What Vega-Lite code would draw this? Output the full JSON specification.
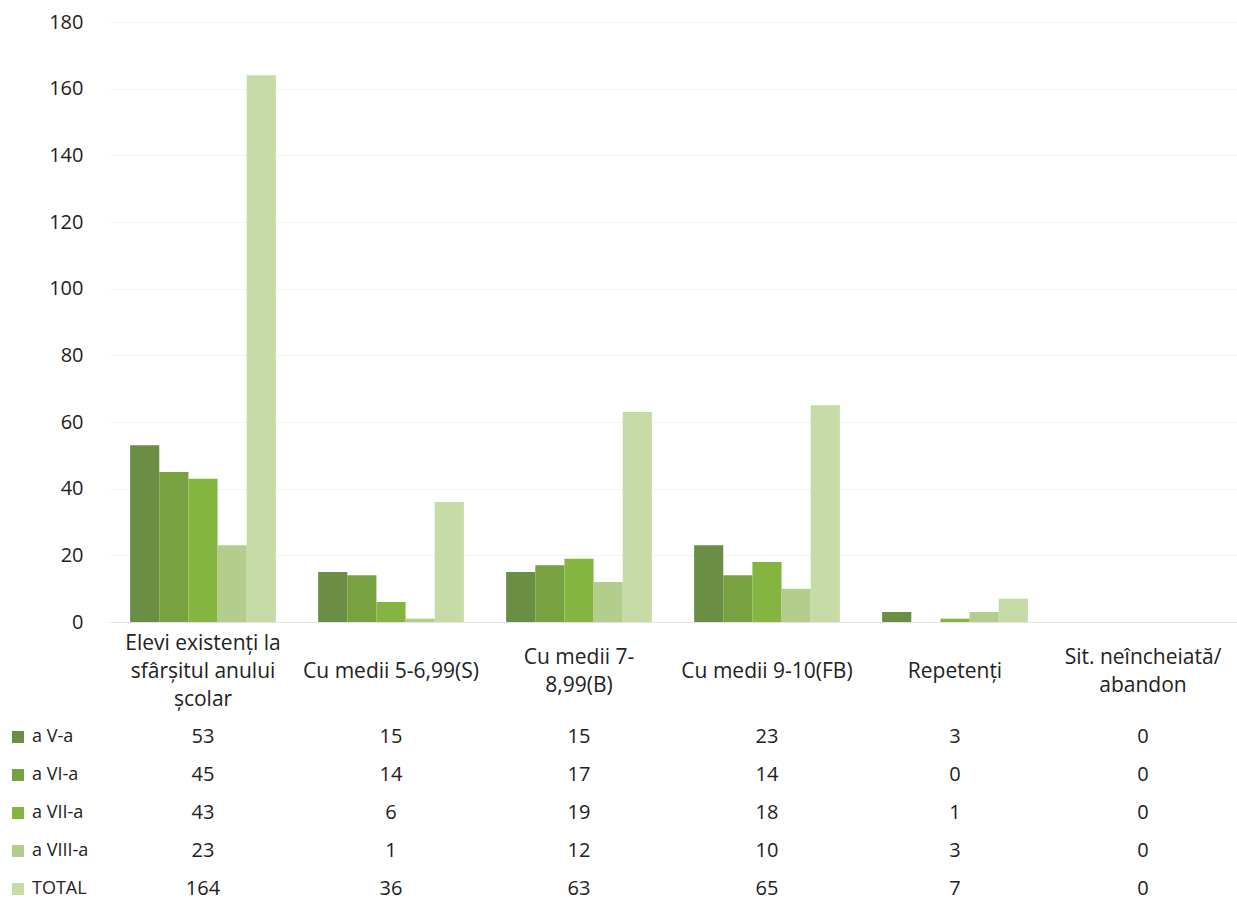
{
  "$schema": "https://vega.github.io/schema/vega-lite/v6.json",
  "padding": {"top": 12, "left": 9, "right": 0, "bottom": 0},
  "background": "white",
  "bounds": "flush",
  "spacing": 115,
  "config": {
    "view": {"stroke": null},
    "font": "Open Sans",
    "axis": {"labelFont": "Open Sans", "labelColor": "#222222"},
    "legend": {"labelFont": "Open Sans", "labelColor": "#222222"},
    "text": {"font": "Open Sans"}
  },
  "datasets": {
    "elevi": [
      {"categorie": "Elevi existenți la\nsfârșitul anului\nșcolar", "clasa": "a V-a", "numar": 53},
      {"categorie": "Elevi existenți la\nsfârșitul anului\nșcolar", "clasa": "a VI-a", "numar": 45},
      {"categorie": "Elevi existenți la\nsfârșitul anului\nșcolar", "clasa": "a VII-a", "numar": 43},
      {"categorie": "Elevi existenți la\nsfârșitul anului\nșcolar", "clasa": "a VIII-a", "numar": 23},
      {"categorie": "Elevi existenți la\nsfârșitul anului\nșcolar", "clasa": "TOTAL", "numar": 164},
      {"categorie": "Cu medii 5-6,99(S)", "clasa": "a V-a", "numar": 15},
      {"categorie": "Cu medii 5-6,99(S)", "clasa": "a VI-a", "numar": 14},
      {"categorie": "Cu medii 5-6,99(S)", "clasa": "a VII-a", "numar": 6},
      {"categorie": "Cu medii 5-6,99(S)", "clasa": "a VIII-a", "numar": 1},
      {"categorie": "Cu medii 5-6,99(S)", "clasa": "TOTAL", "numar": 36},
      {"categorie": "Cu medii 7-\n8,99(B)", "clasa": "a V-a", "numar": 15},
      {"categorie": "Cu medii 7-\n8,99(B)", "clasa": "a VI-a", "numar": 17},
      {"categorie": "Cu medii 7-\n8,99(B)", "clasa": "a VII-a", "numar": 19},
      {"categorie": "Cu medii 7-\n8,99(B)", "clasa": "a VIII-a", "numar": 12},
      {"categorie": "Cu medii 7-\n8,99(B)", "clasa": "TOTAL", "numar": 63},
      {"categorie": "Cu medii 9-10(FB)", "clasa": "a V-a", "numar": 23},
      {"categorie": "Cu medii 9-10(FB)", "clasa": "a VI-a", "numar": 14},
      {"categorie": "Cu medii 9-10(FB)", "clasa": "a VII-a", "numar": 18},
      {"categorie": "Cu medii 9-10(FB)", "clasa": "a VIII-a", "numar": 10},
      {"categorie": "Cu medii 9-10(FB)", "clasa": "TOTAL", "numar": 65},
      {"categorie": "Repetenți", "clasa": "a V-a", "numar": 3},
      {"categorie": "Repetenți", "clasa": "a VI-a", "numar": 0},
      {"categorie": "Repetenți", "clasa": "a VII-a", "numar": 1},
      {"categorie": "Repetenți", "clasa": "a VIII-a", "numar": 3},
      {"categorie": "Repetenți", "clasa": "TOTAL", "numar": 7},
      {"categorie": "Sit. neîncheiată/\nabandon", "clasa": "a V-a", "numar": 0},
      {"categorie": "Sit. neîncheiată/\nabandon", "clasa": "a VI-a", "numar": 0},
      {"categorie": "Sit. neîncheiată/\nabandon", "clasa": "a VII-a", "numar": 0},
      {"categorie": "Sit. neîncheiată/\nabandon", "clasa": "a VIII-a", "numar": 0},
      {"categorie": "Sit. neîncheiată/\nabandon", "clasa": "TOTAL", "numar": 0}
    ]
  },
  "vconcat": [
    {
      "width": 1128,
      "height": 600,
      "data": {"name": "elevi"},
      "mark": {"type": "bar"},
      "encoding": {
        "x": {
          "field": "categorie",
          "type": "nominal",
          "sort": null,
          "scale": {"paddingInner": 0, "paddingOuter": 0},
          "axis": {
            "title": null,
            "labelAngle": 0,
            "labelExpr": "split(datum.label, '\\n')",
            "labelFontSize": 21,
            "labelLineHeight": 28,
            "labelBaseline": {
              "condition": [
                {"test": "length(split(datum.value, '\\n')) == 3", "value": "line-bottom"},
                {"test": "length(split(datum.value, '\\n')) == 1", "value": "line-top"}
              ],
              "value": "middle"
            },
            "labelPadding": 35,
            "labelLimit": 400,
            "ticks": false,
            "domainColor": "#e6e6e6",
            "grid": false
          }
        },
        "xOffset": {
          "field": "clasa",
          "type": "nominal",
          "sort": ["a V-a", "a VI-a", "a VII-a", "a VIII-a", "TOTAL"],
          "scale": {"paddingInner": 0, "paddingOuter": 0.725}
        },
        "y": {
          "field": "numar",
          "type": "quantitative",
          "scale": {"domain": [0, 180]},
          "axis": {
            "title": null,
            "values": [0, 20, 40, 60, 80, 100, 120, 140, 160, 180],
            "labelFontSize": 20,
            "labelPadding": 26,
            "ticks": false,
            "domain": false,
            "gridColor": "#f3f3f3"
          }
        },
        "color": {
          "field": "clasa",
          "type": "nominal",
          "sort": ["a V-a", "a VI-a", "a VII-a", "a VIII-a", "TOTAL"],
          "scale": {
            "domain": ["a V-a", "a VI-a", "a VII-a", "a VIII-a", "TOTAL"],
            "range": ["#6b8e45", "#77a23f", "#84b540", "#b3cd8c", "#c6dba6"]
          },
          "legend": {
            "title": null,
            "orient": "none",
            "legendX": -100,
            "legendY": 706,
            "padding": 0,
            "symbolType": "square",
            "symbolSize": 144,
            "symbolStrokeWidth": 0,
            "labelFontSize": 18,
            "labelOffset": 5,
            "rowPadding": 20
          }
        }
      }
    },
    {
      "width": 1128,
      "height": 152,
      "data": {"name": "elevi"},
      "mark": {"type": "text", "fontSize": 20, "baseline": "middle", "align": "center", "color": "#222222"},
      "encoding": {
        "x": {
          "field": "categorie",
          "type": "nominal",
          "sort": null,
          "scale": {"paddingInner": 0, "paddingOuter": 0},
          "axis": null
        },
        "y": {
          "field": "clasa",
          "type": "ordinal",
          "sort": ["a V-a", "a VI-a", "a VII-a", "a VIII-a", "TOTAL"],
          "scale": {"type": "point", "padding": 0},
          "axis": null
        },
        "text": {"field": "numar", "type": "quantitative"}
      }
    }
  ]
}
